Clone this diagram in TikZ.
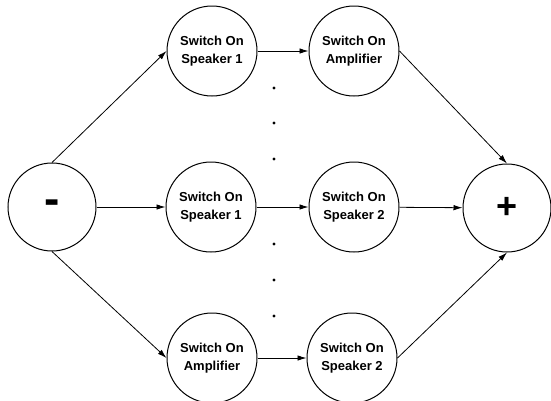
\documentclass[tikz,border=0pt]{standalone}
\usepackage{fontspec}
\setmainfont{Liberation Sans}
\usetikzlibrary{arrows.meta}

\begin{document}
\begin{tikzpicture}[x=1pt,y=-1pt,
  state/.style={circle,draw,line width=1pt,minimum size=90pt,inner sep=0pt,
    align=center,font=\fontsize{13}{17.5}\selectfont\bfseries},
  sign/.style={circle,draw,line width=1pt,minimum size=88pt,inner sep=0pt},
  flow/.style={line width=0.8pt,-{Latex[length=9pt,width=5.5pt]}}]
  \useasboundingbox (0,0) rectangle (551,400);
  % start and goal
  \node[sign] (minus) at (52,207) {\fontsize{46}{46}\selectfont\bfseries -};
  \node[sign] (plus) at (507,208) {\fontsize{36}{36}\selectfont\bfseries +};
  % the three orderings
  \node[state] (spkA) at (212,51) {Switch On\\Speaker 1};
  \node[state] (ampA) at (354,51) {Switch On\\Amplifier};
  \node[state] (spkB) at (211,207) {Switch On\\Speaker 1};
  \node[state] (spkC) at (354,207) {Switch On\\Speaker 2};
  \node[state] (ampD) at (212,358) {Switch On\\Amplifier};
  \node[state] (spkD) at (352,358) {Switch On\\Speaker 2};
  % dots between the rows
  \foreach \y in {88,123,159,244,280,316}
    \fill (274,\y) circle (1.7pt);
  \draw[flow] (minus.north) -- (spkA.west);
  \draw[flow] (minus.east) -- (spkB.west);
  \draw[flow] (minus.south) -- (ampD.west);
  \draw[flow] (spkA) -- (ampA);
  \draw[flow] (spkB) -- (spkC);
  \draw[flow] (ampD) -- (spkD);
  \draw[flow] (ampA.east) -- (plus.north);
  \draw[flow] (spkC) -- (plus);
  \draw[flow] (spkD.east) -- (plus.south);
\end{tikzpicture}
\end{document}
